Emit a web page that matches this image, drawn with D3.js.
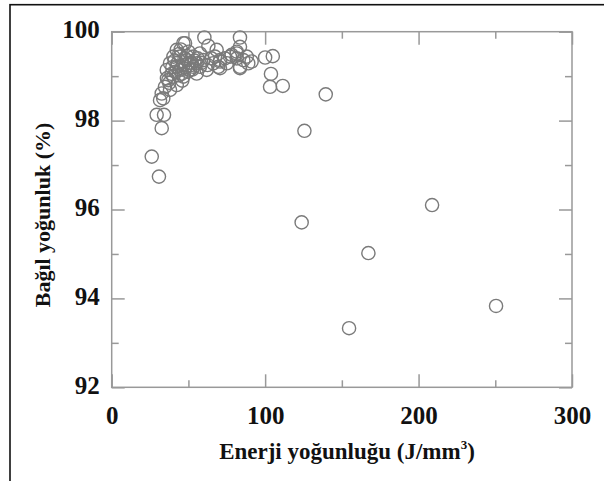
<!DOCTYPE html>
<html><head><meta charset="utf-8">
<script src="https://cdn.jsdelivr.net/npm/d3@7"></script>
<style>body{margin:0;background:#fff}svg{display:block}</style>
</head><body>
<script>
// Data
const energy = [
  26.1, 30.8, 29.3, 34.1, 32.6, 33.6, 32.6, 31.5, 34.7, 36.9, 38.0, 35.9,
  38.0, 40.2, 42.4, 44.5, 46.7, 47.8, 50.0, 53.2, 55.4, 59.7, 57.5, 60.4,
  63.0, 68.4, 69.5, 73.8, 78.2, 83.6, 83.6, 88.0, 89.0, 83.6, 57.5, 51.0,
  44.5, 40.2, 46.7, 55.4, 61.9, 66.2, 70.6, 75.0, 70.6, 77.1, 81.5, 83.6,
  42.4, 46.7, 42.4, 53.2, 48.9, 67.3, 70.6, 81.5, 81.5, 85.8, 91.2, 36.0,
  39.0, 43.5, 49.5, 52.0,
  41.0, 44.0, 47.5, 50.5, 45.5, 48.0, 52.5, 56.0, 39.5, 43.0, 45.0, 49.0,
  51.5, 54.0, 58.5, 37.5, 41.5, 46.0, 62.5, 65.0,
  100.0, 105.0, 103.8, 103.2, 111.5,
  139.5, 125.6, 208.8, 123.8, 167.3, 250.5, 154.7
];
const density = [
  97.19, 96.74, 98.13, 98.13, 97.83, 98.50, 98.61, 98.46, 98.76, 98.91, 98.69, 99.14,
  99.29, 99.44, 99.59, 99.44, 99.74, 99.74, 99.55, 99.44, 99.29, 99.36, 99.21, 99.87,
  99.68, 99.59, 99.21, 99.40, 99.48, 99.87, 99.66, 99.44, 99.29, 99.18, 99.51, 99.14,
  99.14, 98.99, 98.99, 99.06, 99.14, 99.29, 99.36, 99.29, 99.18, 99.44, 99.51, 99.21,
  98.80, 99.25, 99.21, 99.21, 99.36, 99.44, 99.33, 99.40, 99.55, 99.36, 99.33, 98.95,
  99.05, 99.02, 99.10, 99.30,
  99.35, 99.50, 99.40, 99.30, 99.05, 99.20, 99.15, 99.40, 99.20, 99.30, 99.60, 99.45,
  99.25, 99.35, 99.30, 98.85, 99.10, 98.90, 99.25, 99.40,
  99.42, 99.45, 99.05, 98.76, 98.78,
  98.59, 97.77, 96.10, 95.71, 95.02, 93.83, 93.33
];
const xMajorTicks = [0, 100, 200, 300];
const xMinorTicks = [50, 150, 250];
const yMajorTicks = [92, 94, 96, 98, 100];
const yMinorTicks = [93, 95, 97, 99];
const xTitleMain = "Enerji yoğunluğu (J/mm";
const xTitleSup = "3";
const yTitle = "Bağıl yoğunluk (%)";

const W = 604, H = 481;
const mLeft = 111.7, mRight = 572, mTop = 31.7, mBottom = 387.3;
const svg = d3.select("body").append("svg").attr("width", W).attr("height", H);

// outer frame (top + left visible)
svg.append("rect").attr("x", 10).attr("y", 4.7).attr("width", 620).attr("height", 500)
  .attr("fill", "none").attr("stroke", "#111").attr("stroke-width", 1.6);

const x = d3.scaleLinear().domain([0, 300]).range([mLeft, mRight]);
const y = d3.scaleLinear().domain([92, 100]).range([mBottom, mTop]);

const font = "'Liberation Serif','Times New Roman',serif";
const axisColor = "#999";

function styleAxis(g) {
  g.selectAll("path").attr("stroke", axisColor).attr("stroke-width", 1.5);
  g.selectAll("line").attr("stroke", axisColor).attr("stroke-width", 1.5);
  g.selectAll("text").attr("font-family", font).attr("font-weight", "bold")
    .attr("font-size", 25).attr("fill", "#111");
}
function noDomain(g) { g.select(".domain").remove(); }

// bottom
svg.append("g").attr("transform", `translate(0,${mBottom})`)
  .call(d3.axisBottom(x).tickValues(xMajorTicks).tickSizeInner(-13).tickSizeOuter(0).tickPadding(19).tickFormat(d3.format("d")))
  .call(styleAxis).call(noDomain);
svg.append("g").attr("transform", `translate(0,${mBottom})`)
  .call(d3.axisBottom(x).tickValues(xMinorTicks).tickSizeInner(-7).tickSizeOuter(0).tickFormat(""))
  .call(styleAxis).call(noDomain);
// top
svg.append("g").attr("transform", `translate(0,${mTop})`)
  .call(d3.axisTop(x).tickValues(xMajorTicks).tickSizeInner(-13).tickSizeOuter(0).tickFormat(""))
  .call(styleAxis).call(noDomain);
svg.append("g").attr("transform", `translate(0,${mTop})`)
  .call(d3.axisTop(x).tickValues(xMinorTicks).tickSizeInner(-7).tickSizeOuter(0).tickFormat(""))
  .call(styleAxis).call(noDomain);
// left
svg.append("g").attr("transform", `translate(${mLeft},0)`)
  .call(d3.axisLeft(y).tickValues(yMajorTicks).tickSizeInner(-13).tickSizeOuter(0).tickPadding(12).tickFormat(d3.format("d")))
  .call(styleAxis).call(noDomain)
  .call(g => g.selectAll("text").attr("dy", "0.24em"));
svg.append("g").attr("transform", `translate(${mLeft},0)`)
  .call(d3.axisLeft(y).tickValues(yMinorTicks).tickSizeInner(-7).tickSizeOuter(0).tickFormat(""))
  .call(styleAxis).call(noDomain);
// right
svg.append("g").attr("transform", `translate(${mRight},0)`)
  .call(d3.axisRight(y).tickValues(yMajorTicks).tickSizeInner(-13).tickSizeOuter(0).tickFormat(""))
  .call(styleAxis).call(noDomain);
svg.append("g").attr("transform", `translate(${mRight},0)`)
  .call(d3.axisRight(y).tickValues(yMinorTicks).tickSizeInner(-7).tickSizeOuter(0).tickFormat(""))
  .call(styleAxis).call(noDomain);

// plot frame
svg.append("rect").attr("x", mLeft).attr("y", mTop).attr("width", mRight - mLeft).attr("height", mBottom - mTop)
  .attr("fill", "none").attr("stroke", axisColor).attr("stroke-width", 1.5);

// points
svg.append("g").selectAll("circle").data(energy.map((e, i) => [e, density[i]])).join("circle")
  .attr("cx", d => x(d[0])).attr("cy", d => y(d[1])).attr("r", 6.6)
  .attr("fill", "none").attr("stroke", "#7a7a7a").attr("stroke-width", 1.4);

// titles
const xt = svg.append("text").attr("x", 347).attr("y", 459).attr("text-anchor", "middle")
  .attr("font-family", font).attr("font-weight", "bold").attr("font-size", 23).attr("fill", "#111");
xt.append("tspan").text(xTitleMain);
xt.append("tspan").text(xTitleSup).attr("font-size", 13).attr("dy", -10);
xt.append("tspan").text(")").attr("dy", 10);

svg.append("text").attr("transform", "translate(50,215) rotate(-90)").attr("text-anchor", "middle")
  .attr("font-family", font).attr("font-weight", "bold").attr("font-size", 22).attr("fill", "#111")
  .text(yTitle);
</script>
</body></html>
